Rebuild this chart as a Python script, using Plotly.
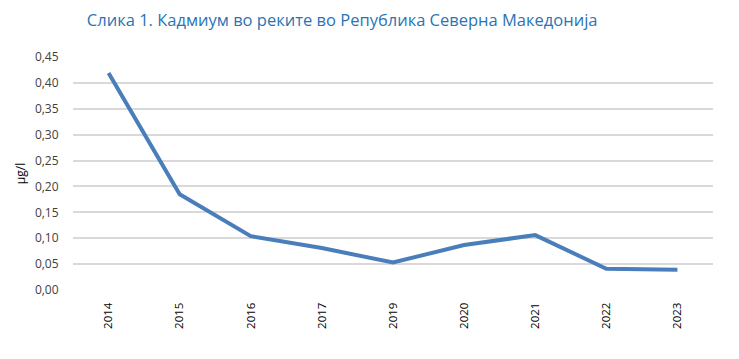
import plotly.graph_objects as go

years = ["2014", "2015", "2016", "2017", "2019", "2020", "2021", "2022", "2023"]
cadmium = [0.419, 0.185, 0.104, 0.081, 0.053, 0.087, 0.106, 0.041, 0.039]
y_ticks = [0.0, 0.05, 0.10, 0.15, 0.20, 0.25, 0.30, 0.35, 0.40, 0.45]

fig = go.Figure()
fig.add_trace(go.Scatter(
    x=years, y=cadmium, mode="lines",
    line=dict(color="#4A7EBB", width=4),
    hoverinfo="skip", showlegend=False,
))

fig.update_layout(
    width=739, height=359,
    margin=dict(l=73, r=26, t=57, b=69),
    paper_bgcolor="white", plot_bgcolor="white",
    separators=", ",
    title=dict(
        text="Слика 1. Кадмиум во реките во Република Северна Македонија",
        x=0.463, xanchor="center", y=1 - 20 / 359, yanchor="middle",
        font=dict(family="Open Sans", size=16.5, color="#2A74B5"),
    ),
    xaxis=dict(
        type="category", tickangle=-90, range=[-0.5, 8.5],
        tickfont=dict(family="Open Sans", size=11.5, color="#000000"),
        showgrid=False, showline=False, ticks="outside", ticklen=7,
        tickcolor="rgba(0,0,0,0)", automargin=False,
    ),
    yaxis=dict(
        range=[0, 0.45], tickvals=y_ticks, tickformat=".2f",
        tickfont=dict(family="Open Sans", size=12, color="#404040"),
        gridcolor="#D9D9D9", gridwidth=1.5, zeroline=False,
        showline=False, ticks="outside", ticklen=11, tickcolor="rgba(0,0,0,0)",
        automargin=False,
        title=dict(text="μg/l", font=dict(family="Open Sans", size=12, color="#000000"), standoff=6),
    ),
)

fig.write_html(
    "out.html",
    config={"displayModeBar": False},
    post_script="document.body.style.margin='0';document.body.style.padding='0';",
)
